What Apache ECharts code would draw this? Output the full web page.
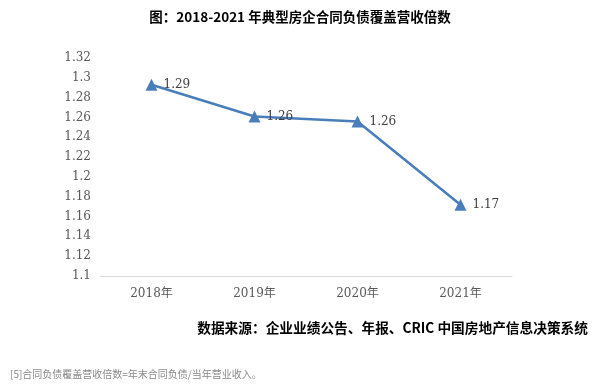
<!DOCTYPE html>
<html><head><meta charset="utf-8">
<script src="https://cdn.jsdelivr.net/npm/echarts@6/dist/echarts.min.js"></script>
<style>html,body{margin:0;padding:0;background:#fff}#c{width:600px;height:391px}</style>
</head><body><div id="c"></div>
<script>
const categories = ['2018年','2019年','2020年','2021年'];
const values = [1.293, 1.261, 1.256, 1.172];
const valueLabels = ['1.29','1.26','1.26','1.17'];
const titleText = '图：2018-2021 年典型房企合同负债覆盖营收倍数';
const sourceText = '数据来源：企业业绩公告、年报、CRIC 中国房地产信息决策系统';
const noteText = '[5]合同负债覆盖营收倍数=年末合同负债/当年营业收入。';

const chart = echarts.init(document.getElementById('c'));
chart.setOption({
  animation: false,
  backgroundColor: '#fff',
  grid: {left: 100, right: 88, top: 58, bottom: 115},
  xAxis: {
    type: 'category', data: categories, boundaryGap: true,
    axisLine: {lineStyle: {color: '#d9d9d9', width: 1}},
    axisTick: {show: false},
    axisLabel: {color: '#595959', fontSize: 12, margin: 12, fontFamily: 'DejaVu Serif, Noto Sans CJK SC'}
  },
  yAxis: {
    type: 'value', min: 1.1, max: 1.32, interval: 0.02,
    axisLine: {show: false}, axisTick: {show: false}, splitLine: {show: false},
    axisLabel: {color: '#595959', fontSize: 12, margin: 9, fontFamily: 'DejaVu Serif',
      formatter: v => String(parseFloat(v.toFixed(2)))}
  },
  series: [{
    type: 'line', data: values,
    symbol: 'triangle', symbolSize: 12,
    lineStyle: {color: '#4a7ebb', width: 2.5},
    itemStyle: {color: '#4a7ebb'},
    label: {show: true, position: 'right', distance: 6, color: '#404040', fontSize: 12,
      fontFamily: 'DejaVu Serif', formatter: p => valueLabels[p.dataIndex]}
  }],
  graphic: [
    {type: 'text', left: 'center', top: 10, style: {text: titleText, fill: '#000', font: 'bold 13.5px "Noto Sans CJK SC"'}},
    {type: 'text', right: 12, top: 321, style: {text: sourceText, fill: '#000', font: 'bold 13.7px "Noto Sans CJK SC"'}},
    {type: 'text', left: 10, top: 369, style: {text: noteText, fill: '#888', font: '10px "Noto Sans CJK SC"'}}
  ]
});
</script></body></html>
